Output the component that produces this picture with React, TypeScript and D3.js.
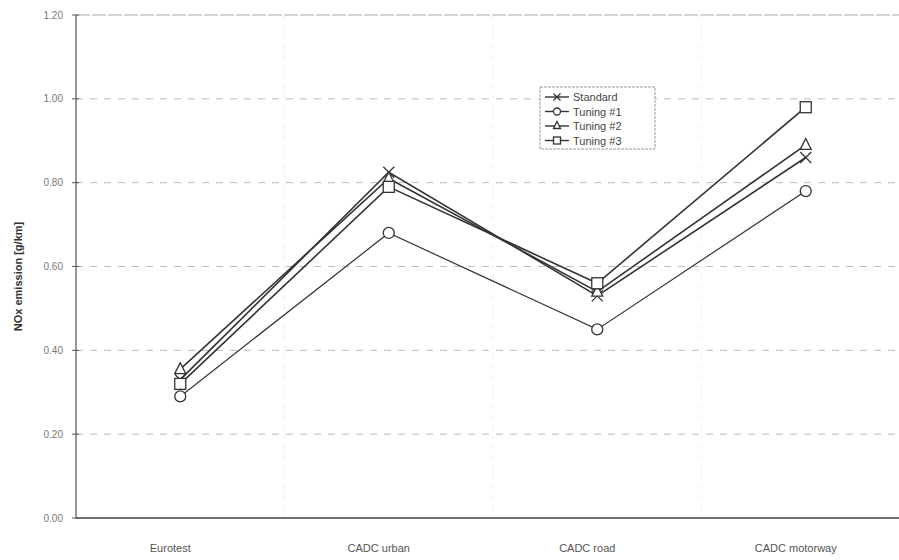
import React from "react";
import * as d3 from "d3";

const categories = ["Eurotest", "CADC urban", "CADC road", "CADC motorway"];
const seriesNames = ["Standard", "Tuning #1", "Tuning #2", "Tuning #3"];
const standard = [0.33, 0.825, 0.53, 0.86];
const tuning1 = [0.29, 0.68, 0.45, 0.78];
const tuning2 = [0.355, 0.81, 0.54, 0.89];
const tuning3 = [0.32, 0.79, 0.56, 0.98];
const yTicks = [0, 0.2, 0.4, 0.6, 0.8, 1.0, 1.2];
const markers = ["x", "circle", "triangle", "square"];

const W = 899, H = 560;
const left = 76, right = 910, top = 15, bottom = 518;

function Marker({ type, x, y, s = 5.5 }: { type: string; x: number; y: number; s?: number }) {
  const st = { stroke: "#333", strokeWidth: 1.3, fill: "white" };
  if (type === "x")
    return (
      <g>
        <line x1={x - s} y1={y - s} x2={x + s} y2={y + s} {...st} />
        <line x1={x - s} y1={y + s} x2={x + s} y2={y - s} {...st} />
      </g>
    );
  if (type === "circle") return <circle cx={x} cy={y} r={s} {...st} />;
  if (type === "triangle")
    return <path d={`M${x},${y - s - 1}L${x + s},${y + s - 1}L${x - s},${y + s - 1}Z`} {...st} />;
  return <rect x={x - s} y={y - s} width={2 * s} height={2 * s} {...st} />;
}

export default function App() {
  const x = d3.scaleBand().domain(categories).range([left, right]);
  const y = d3.scaleLinear().domain([0, 1.2]).range([bottom, top]);
  const cx = (c: string) => (x(c) as number) + x.bandwidth() / 2;
  const data = [standard, tuning1, tuning2, tuning3];
  const line = d3
    .line<number>()
    .x((_, i) => cx(categories[i]))
    .y((d) => y(d));
  const font = "'Liberation Sans', Arial, sans-serif";
  const lx = 545, ly0 = 97, lstep = 14.5;
  return (
    <div style={{ position: "absolute", left: 0, top: 0 }}>
      <svg width={W} height={H} style={{ display: "block", background: "white" }} fontFamily={font}>
        {yTicks.slice(1).map((t) => (
          <line key={t} x1={left} x2={W} y1={y(t)} y2={y(t)} stroke={t === 1.2 ? "#aaa" : "#bbb"}
            strokeWidth={1} strokeDasharray={t === 1.2 ? "14,2" : "7,7"} />
        ))}
        {categories.slice(1).map((c) => (
          <line key={c} x1={x(c)} x2={x(c)} y1={top} y2={bottom} stroke="#eeeeee" strokeWidth={1} strokeDasharray="4,6" />
        ))}
        <line x1={left} x2={left} y1={top} y2={bottom} stroke="#555" strokeWidth={1.2} />
        <line x1={left} x2={W} y1={bottom} y2={bottom} stroke="#444" strokeWidth={1.5} />
        {yTicks.map((t) => (
          <g key={t}>
            <line x1={left - 4} x2={left + 3} y1={y(t)} y2={y(t)} stroke="#555" strokeWidth={1} />
            <text x={left - 13} y={y(t) + 3.5} textAnchor="end" fontSize={10} fill="#777">
              {t.toFixed(2)}
            </text>
          </g>
        ))}
        {categories.map((c) => (
          <text key={c} x={cx(c) - 10} y={552} textAnchor="middle" fontSize={11} fill="#555">
            {c}
          </text>
        ))}
        <text transform={`translate(22,${(top + bottom) / 2 + 10}) rotate(-90)`} textAnchor="middle"
          fontSize={11} fontWeight="bold" fill="#333">
          NOx emission [g/km]
        </text>
        {data.map((d, si) => (
          <path key={si} d={line(d) as string} fill="none" stroke="#333" strokeWidth={si === 1 ? 1.2 : 1.6} />
        ))}
        {data.map((d, si) =>
          d.map((v, i) => <Marker key={si + "-" + i} type={markers[si]} x={cx(categories[i])} y={y(v)} />)
        )}
        <rect x={540} y={87} width={115} height={62} fill="white" stroke="#999" strokeWidth={1} strokeDasharray="3,1" />
        {seriesNames.map((n, i) => (
          <g key={n}>
            <line x1={lx} x2={lx + 24} y1={ly0 + i * lstep} y2={ly0 + i * lstep} stroke="#333" strokeWidth={1.4} />
            <Marker type={markers[i]} x={lx + 12} y={ly0 + i * lstep} s={3.5} />
            <text x={lx + 28} y={ly0 + i * lstep + 4} fontSize={11} fill="#444">
              {n}
            </text>
          </g>
        ))}
      </svg>
    </div>
  );
}
